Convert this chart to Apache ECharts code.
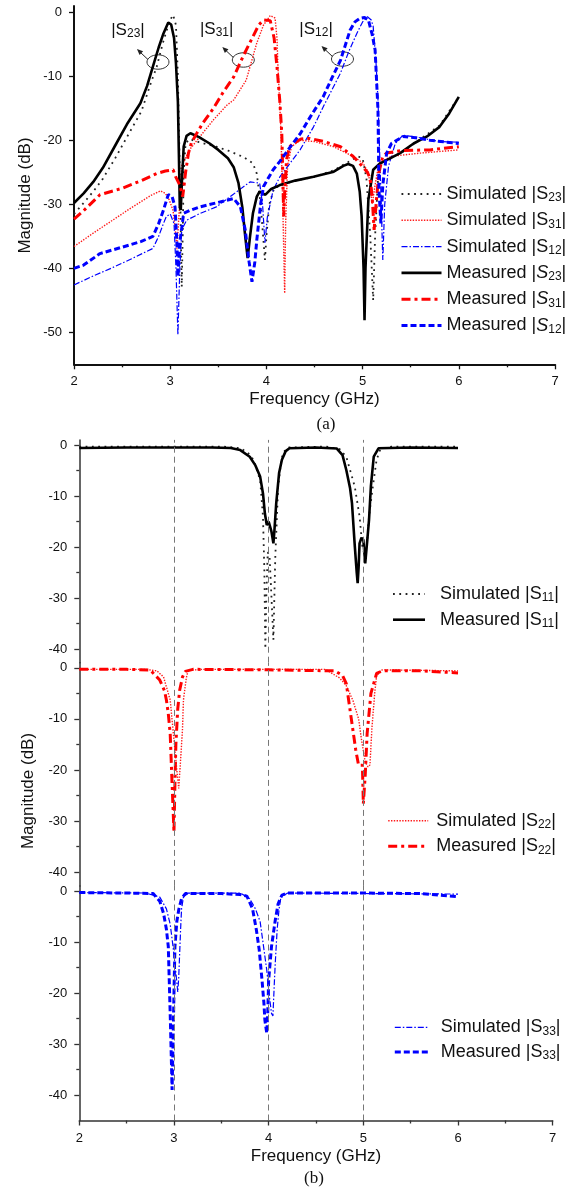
<!DOCTYPE html>
<html><head><meta charset="utf-8">
<script src="https://cdn.jsdelivr.net/npm/echarts@6/dist/echarts.min.js"></script>
<style>html,body{margin:0;padding:0;background:#fff}#c{width:569px;height:1190px}</style>
</head><body><div id="c"></div>
<script>
// ---------- DATA (frequency GHz, magnitude dB) ----------
// Figure (a): transmission
const simS23 = [[2,-31.5],[2.1,-29.8],[2.2,-28],[2.3,-26],[2.44,-22.5],[2.55,-19.5],[2.7,-15.5],[2.8,-11],[2.86,-8.5],[2.92,-5],[2.96,-3],[3.0,-1.2],[3.03,-0.4],[3.06,-2],[3.08,-10],[3.1,-25],[3.12,-42.9],[3.13,-35],[3.14,-25],[3.16,-20.5],[3.2,-19.8],[3.3,-20.3],[3.48,-21],[3.6,-21.6],[3.76,-22.6],[3.86,-23.6],[3.9,-25.2],[3.94,-30],[3.985,-38.7],[4.0,-35],[4.03,-30],[4.08,-27.5],[4.15,-27],[4.3,-26.3],[4.5,-25.7],[4.7,-24.7],[4.85,-23.4],[4.95,-22.5],[5.0,-22.8],[5.04,-26],[5.08,-35],[5.11,-45],[5.13,-35],[5.16,-26],[5.2,-23.4],[5.4,-22],[5.6,-19.8],[5.8,-17.7],[6.0,-13.2]];
const simS31 = [[2,-36.6],[2.2,-34.5],[2.4,-32.5],[2.6,-30.5],[2.8,-28.6],[2.9,-27.9],[2.95,-28.3],[2.99,-29.3],[3.03,-31],[3.06,-35],[3.07,-37],[3.09,-32],[3.12,-24],[3.2,-21.5],[3.31,-19.4],[3.45,-16.8],[3.59,-14.5],[3.66,-13.7],[3.79,-10.6],[3.9,-4.8],[3.97,-2],[4.04,-0.5],[4.09,-0.9],[4.11,-4],[4.12,-8.5],[4.15,-18],[4.17,-30],[4.19,-43.9],[4.2,-33],[4.22,-24],[4.26,-21],[4.35,-20],[4.5,-20.2],[4.7,-21],[4.9,-22.5],[5.0,-23.5],[5.06,-25],[5.1,-30],[5.13,-27],[5.17,-23.5],[5.3,-22.5],[5.6,-22],[6.0,-21.5]];
const simS12 = [[2,-42.6],[2.2,-41.2],[2.4,-39.9],[2.6,-38.5],[2.82,-36.9],[2.88,-35],[2.93,-33],[2.96,-31.9],[3.0,-31.5],[3.04,-33],[3.06,-40],[3.08,-50.4],[3.1,-40],[3.12,-34],[3.17,-32.5],[3.3,-31.5],[3.48,-30.4],[3.65,-28.5],[3.83,-26.5],[3.93,-26.7],[3.96,-30],[3.985,-36],[4.01,-32],[4.07,-27.8],[4.14,-25.7],[4.25,-23.5],[4.35,-21.5],[4.49,-17.9],[4.6,-14.5],[4.77,-9.5],[4.86,-6],[4.94,-3.3],[5.0,-1.5],[5.05,-0.7],[5.09,-1.2],[5.11,-2.2],[5.14,-8],[5.16,-13.7],[5.19,-28],[5.21,-38.7],[5.23,-30],[5.27,-24],[5.34,-20.5],[5.42,-19.2],[5.6,-19.6],[5.8,-20.2],[6.0,-20.3]];
const measS23 = [[2,-29.8],[2.1,-28.3],[2.2,-26.5],[2.3,-24.3],[2.44,-20.5],[2.55,-17.5],[2.69,-14.2],[2.76,-11.5],[2.82,-8.5],[2.88,-5.5],[2.93,-3.3],[2.98,-1.6],[3.01,-1.9],[3.04,-4],[3.06,-8],[3.08,-14],[3.09,-22],[3.1,-30.5],[3.11,-30.9],[3.12,-27],[3.14,-21],[3.17,-19.3],[3.21,-18.9],[3.3,-19.5],[3.41,-20.5],[3.5,-21.5],[3.6,-22.8],[3.66,-24.2],[3.71,-26.7],[3.75,-30.5],[3.78,-35],[3.805,-38.4],[3.83,-35],[3.86,-31.4],[3.9,-28.8],[3.93,-28],[3.96,-28.3],[3.99,-28.5],[4.05,-27.6],[4.14,-27],[4.3,-26.3],[4.49,-25.7],[4.7,-24.9],[4.8,-24],[4.85,-23.7],[4.9,-24],[4.94,-25.2],[4.97,-28],[4.99,-31.9],[5.01,-40],[5.02,-48.1],[5.03,-40],[5.06,-29.3],[5.11,-24.6],[5.18,-23.6],[5.3,-22.7],[5.39,-22],[5.53,-20.5],[5.67,-19.4],[5.8,-17.9],[5.9,-15.8],[6.0,-13.2]];
const measS31 = [[2,-32.3],[2.1,-31],[2.27,-28.5],[2.5,-27.5],[2.7,-26.3],[2.86,-25.2],[2.95,-24.8],[3.03,-24.6],[3.06,-25.8],[3.1,-27],[3.13,-28.8],[3.16,-25],[3.19,-22],[3.22,-20.4],[3.28,-18.8],[3.34,-17.3],[3.45,-15],[3.55,-12.5],[3.66,-10.1],[3.76,-6.8],[3.86,-3.8],[3.92,-2],[3.97,-1.2],[4.04,-1.3],[4.08,-4],[4.11,-8.5],[4.14,-14],[4.16,-18.9],[4.17,-25],[4.18,-31.9],[4.19,-28],[4.21,-23],[4.24,-21],[4.28,-20.5],[4.36,-19.8],[4.45,-19.7],[4.6,-20.2],[4.77,-21],[4.9,-22.5],[4.97,-23.6],[5.05,-25],[5.08,-26],[5.1,-29],[5.12,-34],[5.14,-30],[5.17,-25],[5.21,-22.5],[5.25,-22],[5.4,-21.6],[5.7,-21.5],[6.0,-21]];
const measS12 = [[2,-40],[2.1,-39.5],[2.27,-37.7],[2.5,-36.7],[2.7,-35.8],[2.82,-35],[2.88,-33],[2.93,-30.9],[2.98,-28.5],[3.02,-28.8],[3.05,-30.4],[3.07,-36],[3.08,-41.3],[3.1,-36],[3.14,-31.4],[3.2,-31],[3.31,-30.4],[3.5,-29.7],[3.66,-29.1],[3.73,-30.4],[3.78,-34],[3.82,-39],[3.85,-42.1],[3.88,-39],[3.9,-35.6],[3.94,-30],[3.97,-27.2],[4.07,-24.6],[4.14,-23.3],[4.25,-21],[4.35,-19],[4.47,-16],[4.59,-13.2],[4.68,-10.3],[4.77,-7.5],[4.87,-2.8],[4.92,-1.5],[4.97,-0.95],[5.02,-0.8],[5.06,-1.2],[5.1,-3.5],[5.13,-5.9],[5.16,-15.3],[5.17,-27.7],[5.19,-33],[5.21,-27],[5.25,-22],[5.3,-20.5],[5.42,-19.4],[5.55,-19.6],[5.7,-20],[6.0,-20.5]];
// Figure (b): reflection
const simS11 = [[2,-0.3],[3.5,-0.3],[3.7,-0.6],[3.78,-1.5],[3.84,-2.9],[3.91,-6.9],[3.94,-14],[3.955,-25],[3.965,-40],[3.975,-30],[3.99,-21],[4.01,-22],[4.03,-30],[4.05,-38.2],[4.06,-30],[4.07,-22],[4.1,-8.2],[4.13,-3.5],[4.15,-1.6],[4.2,-0.5],[4.6,-0.3],[4.75,-0.8],[4.82,-2.3],[4.91,-8.2],[4.96,-14],[4.99,-20],[5.02,-22],[5.04,-19],[5.06,-14],[5.1,-8.2],[5.14,-2.9],[5.18,-0.8],[5.3,-0.3],[6.0,-0.3]];
const measS11 = [[2,-0.6],[2.5,-0.5],[3,-0.5],[3.4,-0.5],[3.6,-0.6],[3.7,-1.0],[3.8,-2.3],[3.86,-4],[3.91,-6.2],[3.94,-9.5],[3.96,-13.4],[3.98,-15.7],[4.0,-15],[4.01,-14.7],[4.03,-17],[4.05,-19.3],[4.06,-17],[4.08,-11.4],[4.11,-5.5],[4.14,-2.9],[4.18,-1.2],[4.22,-0.65],[4.5,-0.5],[4.72,-0.7],[4.78,-2],[4.82,-4.9],[4.86,-8.5],[4.88,-11.4],[4.91,-19.9],[4.93,-25],[4.94,-27.1],[4.95,-24],[4.96,-19.3],[4.98,-18.2],[5.0,-18.6],[5.02,-23.2],[5.04,-19],[5.06,-14.7],[5.08,-8],[5.11,-2.3],[5.16,-0.65],[5.5,-0.5],[6.0,-0.6]];
const simS22 = [[2,-0.3],[2.7,-0.3],[2.82,-0.6],[2.89,-1.8],[2.96,-6.3],[3.01,-16.1],[3.03,-20],[3.05,-23.6],[3.07,-18],[3.09,-12],[3.1,-6.3],[3.13,-2],[3.15,-0.5],[3.3,-0.3],[4.6,-0.3],[4.75,-2],[4.82,-3.5],[4.89,-6.4],[4.95,-10],[4.98,-14],[5.02,-18.5],[5.05,-19.4],[5.07,-19],[5.09,-12],[5.1,-9.6],[5.12,-5],[5.14,-1.5],[5.2,-0.4],[6.0,-0.6]];
const measS22 = [[2,-0.3],[2.5,-0.3],[2.75,-0.45],[2.85,-2.4],[2.9,-4.5],[2.92,-6.3],[2.94,-9],[2.96,-12.9],[2.98,-22.7],[3.0,-32.2],[3.01,-22.7],[3.02,-15],[3.04,-8],[3.06,-4.4],[3.09,-1.8],[3.12,-0.7],[3.2,-0.3],[4.0,-0.4],[4.7,-0.6],[4.78,-1.5],[4.82,-3.1],[4.87,-9.6],[4.92,-16.1],[4.95,-19.1],[4.99,-19.1],[5.0,-26.6],[5.02,-21],[5.04,-12.9],[5.08,-5],[5.14,-1.1],[5.2,-0.6],[5.6,-0.6],[6.0,-1.0]];
const simS33 = [[2,-0.3],[2.7,-0.4],[2.85,-1.2],[2.92,-3.5],[2.96,-6.5],[2.99,-10.9],[3.02,-16],[3.04,-19.8],[3.05,-17],[3.07,-7.5],[3.08,-3.5],[3.1,-1.2],[3.15,-0.4],[3.7,-0.4],[3.8,-1.5],[3.86,-3.5],[3.91,-6],[3.98,-15.5],[4.01,-21],[4.03,-24],[4.045,-24.5],[4.06,-18],[4.07,-14],[4.09,-7.5],[4.11,-3.5],[4.13,-1.2],[4.2,-0.4],[6.0,-0.6]];
const measS33 = [[2,-0.3],[2.5,-0.4],[2.78,-0.5],[2.85,-2],[2.89,-4.4],[2.92,-7.5],[2.94,-10.9],[2.96,-24],[2.975,-35],[2.98,-39],[2.99,-30],[3.0,-20],[3.01,-10.9],[3.03,-6],[3.05,-3.7],[3.08,-1.5],[3.12,-0.5],[3.5,-0.5],[3.7,-0.7],[3.77,-1.0],[3.83,-3.5],[3.87,-7.6],[3.9,-11.5],[3.93,-17.5],[3.95,-22],[3.96,-25.3],[3.98,-27.9],[3.99,-24],[4.0,-17.5],[4.03,-10.9],[4.07,-5.7],[4.1,-2.5],[4.14,-0.8],[4.2,-0.4],[5.0,-0.4],[5.6,-0.5],[6.0,-1.1]];

// Tick values
const yTicksA = [0,-10,-20,-30,-40,-50];
const yTicksB = [0,-10,-20,-30,-40];
const yMinorB = [-5,-15,-25,-35];
const resonances = [3,4,5];
// Annotations in (a): [label subscript, text position, ellipse position]
const annotSubs = ['23','31','12'];
const annotText = [[2.561,-2.77],[3.483,-2.61],[4.516,-2.61]];
const annotEllipse = [[2.873,-7.77],[3.76,-7.45],[4.791,-7.3]];

// ---------- CHART ----------
const FONT = 'Liberation Sans, Arial, sans-serif';
const chart = echarts.init(document.getElementById('c'), null, {renderer:'canvas'});

const grids = [
  {left:74, top:5.9, width:481, height:358.4},
  {left:79.3, top:439.9, width:473.4, height:222.8},
  {left:79.3, top:662.7, width:473.4, height:223.2},
  {left:79.3, top:885.9, width:473.4, height:234.6}
];
const yRanges = [[-55,1],[-42.7,1],[-42.7,1],[-45,1]];

function xAxisFor(i, show){
  return {
    type:'value', gridIndex:i, min:2, max:7, interval:1, show:show,
    axisLine:{show:true, onZero:false, lineStyle:{color: i===0?'#111':'#333', width: i===0?2:1.5}},
    axisTick:{show:true, inside:false, length:5, lineStyle:{color:i===0?'#111':'#333', width:1.3}},
    minorTick:{show:true, splitNumber:2, length:3, lineStyle:{color:i===0?'#111':'#333', width:1.3}},
    axisLabel:{show:true, margin:11, fontSize:13, color:'#111', fontFamily:FONT},
    splitLine:{show:false}, minorSplitLine:{show:false},
    name:'Frequency (GHz)', nameLocation:'middle', nameGap:27,
    nameTextStyle:{fontSize:17, color:'#111', fontFamily:FONT}
  };
}
const xAxes = [xAxisFor(0,true), xAxisFor(1,false), xAxisFor(2,false), xAxisFor(3,true)];

const yAxes = [];
grids.forEach((g,i)=>{
  const major = i===0 ? yTicksA : yTicksB;
  const minor = i===0 ? [] : yMinorB;
  const col = i===0 ? '#111' : '#333';
  yAxes.push({
    type:'value', gridIndex:i, position:'left', offset:0,
    min:yRanges[i][0], max:yRanges[i][1],
    axisLine:{show:true, onZero:false, lineStyle:{color:col, width:i===0?2:1.5}},
    axisTick:{show:true, inside:false, length:5, customValues:major, lineStyle:{color:col, width:1.3}},
    axisLabel:{show:true, margin:12, fontSize:13, color:'#111', fontFamily:FONT, customValues:major},
    splitLine:{show:false}
  });
  yAxes.push({
    type:'value', gridIndex:i, position:'left', offset:0,
    min:yRanges[i][0], max:yRanges[i][1],
    axisLine:{show:false},
    axisTick:{show:minor.length>0, inside:false, length:3, customValues:minor, lineStyle:{color:col, width:1.3}},
    axisLabel:{show:false, customValues:minor},
    splitLine:{show:false}
  });
});

const styles = {
  simBlack:{color:'#222', width:1.8, type:[1.8,4.5]},
  simRed:{color:'#ff1a1a', width:1.4, type:[1.4,1.4]},
  simBlue:{color:'#0000ff', width:1.2, type:[6,2,1.5,2]},
  measBlack:{color:'#000', width:2.6, type:'solid'},
  measRed:{color:'#ff0000', width:3, type:[9,4,3,4]},
  measBlue:{color:'#0000ff', width:3, type:[6,3]}
};
function mk(name, data, grid, st, extra){
  return Object.assign({
    name, type:'line', data, xAxisIndex:grid, yAxisIndex:grid*2,
    symbol:'none', showSymbol:false, smooth:false, animation:false,
    lineStyle:Object.assign({}, st), itemStyle:{color:st.color}, z:3
  }, extra||{});
}
function vlines(){
  return {markLine:{silent:true, symbol:'none', animation:false, label:{show:false},
    lineStyle:{type:[6,4], color:'#777', width:1},
    data: resonances.map(v=>({xAxis:v}))}};
}

const series = [
  mk('Simulated |S23|', simS23, 0, styles.simBlack),
  mk('Simulated |S31|', simS31, 0, styles.simRed),
  mk('Simulated |S12|', simS12, 0, styles.simBlue),
  mk('Measured |S23|', measS23, 0, styles.measBlack),
  mk('Measured |S31|', measS31, 0, styles.measRed),
  mk('Measured |S12|', measS12, 0, styles.measBlue),
  mk('Simulated |S11|', simS11, 1, styles.simBlack, vlines()),
  mk('Measured |S11|', measS11, 1, styles.measBlack),
  mk('Simulated |S22|', simS22, 2, styles.simRed, vlines()),
  mk('Measured |S22|', measS22, 2, styles.measRed),
  mk('Simulated |S33|', simS33, 3, styles.simBlue, vlines()),
  mk('Measured |S33|', measS33, 3, styles.measBlue)
];

function richName(name, italicS, gap){
  const m = name.match(/^(.*\|)S(\d+)\|$/);
  return (gap?'{g| }':'') + '{t|'+m[1]+'}{'+(italicS?'i':'t')+'|S}{s|'+m[2]+'}{t||}';
}
function legendFor(names, left, top, gapV, itemWidth, gapH, italicMeasured){
  return {
    orient:'vertical', left, top, itemGap:gapV, itemWidth, itemHeight:14,
    data:names, selectedMode:false, padding:0,
    lineStyle:{width:'inherit', type:'inherit'},
    itemStyle:{opacity:0, borderWidth:0},
    formatter: n => richName(n, italicMeasured && n.startsWith('Measured'), gapH>0),
    textStyle:{fontFamily:FONT, fontSize:18, color:'#111',
      rich:{
        t:{fontFamily:FONT, fontSize:18, lineHeight:20, color:'#111'},
        i:{fontFamily:FONT, fontSize:18, lineHeight:20, color:'#111', fontStyle:'italic'},
        s:{fontFamily:FONT, fontSize:12, lineHeight:8, verticalAlign:'bottom', color:'#111'},
        g:{fontSize:4, width:gapH}
      }}
  };
}
const legends = [
  legendFor(series.slice(0,6).map(s=>s.name), 400, 185, 7.3, 40, 0, true),
  legendFor(['Simulated |S11|','Measured |S11|'], 391.7, 585, 6.7, 32, 10, false),
  legendFor(['Simulated |S22|','Measured |S22|'], 386.7, 811.7, 6.6, 40, 3, false),
  legendFor(['Simulated |S33|','Measured |S33|'], 393.3, 1018.3, 5.7, 33, 8, false)
];

chart.setOption({
  animation:false, backgroundColor:'#fff',
  grid:grids, xAxis:xAxes, yAxis:yAxes, legend:legends, series
});

// ---------- TEXT / ANNOTATIONS ----------
const g = [];
g.push({type:'text', x:25, y:195.5, rotation:Math.PI/2,
  style:{text:'Magnitude (dB)', fontSize:17, fontFamily:FONT, fill:'#111', align:'center', verticalAlign:'middle'}});
g.push({type:'text', x:28.3, y:791, rotation:Math.PI/2,
  style:{text:'Magnitude (dB)', fontSize:17, fontFamily:FONT, fill:'#111', align:'center', verticalAlign:'middle'}});
g.push({type:'text', x:326, y:425,
  style:{text:'(a)', fontSize:17, fontFamily:'Liberation Serif, Times New Roman, serif', fill:'#111', align:'center', verticalAlign:'middle'}});
g.push({type:'text', x:314, y:1179,
  style:{text:'(b)', fontSize:17, fontFamily:'Liberation Serif, Times New Roman, serif', fill:'#111', align:'center', verticalAlign:'middle'}});

annotSubs.forEach((sub,k)=>{
  const tp = chart.convertToPixel({gridIndex:0}, annotText[k]);
  const ep = chart.convertToPixel({gridIndex:0}, annotEllipse[k]);
  g.push({type:'text', x:tp[0], y:tp[1],
    style:{text:'{t||S}{s|'+sub+'}{t||}', align:'center', verticalAlign:'middle',
      rich:{t:{fontFamily:FONT, fontSize:17, lineHeight:20, fill:'#111', color:'#111'},
            s:{fontFamily:FONT, fontSize:12, lineHeight:8, verticalAlign:'bottom', fill:'#111', color:'#111'}}}});
  g.push({type:'ellipse', shape:{cx:ep[0], cy:ep[1], rx:11, ry:7.2},
    style:{fill:'none', stroke:'#333', lineWidth:1}});
  const sx = ep[0]-10, sy = ep[1]-2.5, ex = ep[0]-21, ey = ep[1]-13;
  g.push({type:'line', shape:{x1:sx, y1:sy, x2:ex+2.5, y2:ey+2.5}, style:{stroke:'#222', lineWidth:1}});
  const ang = Math.atan2(ey-sy, ex-sx), L = 6, W = 2.6;
  const bx = ex - L*Math.cos(ang), by = ey - L*Math.sin(ang);
  g.push({type:'polygon', shape:{points:[[ex,ey],[bx+W*Math.sin(ang), by-W*Math.cos(ang)],[bx-W*Math.sin(ang), by+W*Math.cos(ang)]]},
    style:{fill:'#222'}});
});
chart.setOption({graphic:g});
</script></body></html>
